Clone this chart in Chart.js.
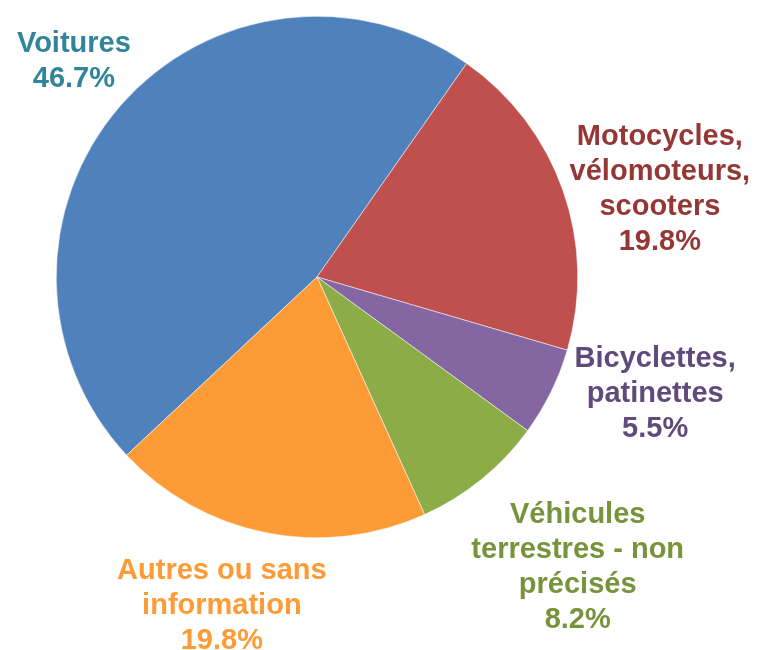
<!DOCTYPE html>
<html>
<head>
<meta charset="utf-8">
<script src="https://cdn.jsdelivr.net/npm/chart.js@4"></script>
<style>
  html, body { margin: 0; padding: 0; background: #ffffff; }
  #wrap { width: 759px; height: 650px; }
</style>
</head>
<body>
<div id="wrap"><canvas id="chart-pie" width="759" height="650"></canvas></div>
<script>
    // categories (one entry per line of the label) and shares in percent
    const categories = [
        ['Voitures'],
        ['Motocycles,', 'vélomoteurs,', 'scooters'],
        ['Bicyclettes,', 'patinettes'],
        ['Véhicules', 'terrestres - non', 'précisés'],
        ['Autres ou sans', 'information']
    ];
    const shares = [46.7, 19.8, 5.5, 8.2, 19.8];

    const sliceColors = ['#4f81bd', '#c0504d', '#8466a3', '#8bac47', '#fd9b36'];
    const labelColors = ['#31849b', '#953735', '#604a7b', '#77933c', '#fd9b36'];

    // where each label sits: distance from centre (in radii) along the slice middle, plus a nudge
    const labelPlacement = [
        { k: 1.26, dx: 5, dy: 0 },
        { k: 1.30, dx: 23, dy: 25 },
        { k: 1.30, dx: 34, dy: -33 },
        { k: 1.42, dx: 27, dy: 3 },
        { k: 1.26, dx: -31, dy: 7 }
    ];

    const outsideLabels = {
        id: 'outsideLabels',
        afterDatasetsDraw(chart) {
            const ctx = chart.ctx;
            const meta = chart.getDatasetMeta(0);
            ctx.save();
            ctx.font = 'bold 29px "Liberation Sans", Arial, sans-serif';
            ctx.textAlign = 'center';
            ctx.textBaseline = 'middle';
            const lineH = 35;
            meta.data.forEach((arc, i) => {
                const p = arc.getProps(['x', 'y', 'startAngle', 'endAngle', 'outerRadius'], true);
                const mid = (p.startAngle + p.endAngle) / 2;
                const pl = labelPlacement[i];
                const cx = p.x + Math.cos(mid) * p.outerRadius * pl.k + pl.dx;
                const cy = p.y + Math.sin(mid) * p.outerRadius * pl.k + pl.dy;
                const lines = categories[i].concat([shares[i].toFixed(1) + '%']);
                const top = cy - (lines.length - 1) * lineH / 2;
                ctx.fillStyle = labelColors[i];
                lines.forEach((t, j) => ctx.fillText(t, cx, top + j * lineH));
            });
            ctx.restore();
        }
    };

    const dataPie = {
        labels: categories.map(c => c.join(' ')),
        datasets: [{
            data: shares,
            backgroundColor: sliceColors,
            borderColor: '#ffffff',
            borderWidth: 0.5
        }]
    };

    const configPie = {
        type: 'pie',
        data: dataPie,
        options: {
            responsive: false,
            animation: false,
            rotation: -133.1,
            layout: {
                padding: { left: 56, right: 181, top: 16, bottom: 112 }
            },
            plugins: {
                legend: { display: false },
                tooltip: { enabled: false }
            }
        },
        plugins: [outsideLabels]
    };

    var chartPie = new Chart(
        document.getElementById('chart-pie'),
        configPie
    );
</script>
</body>
</html>
